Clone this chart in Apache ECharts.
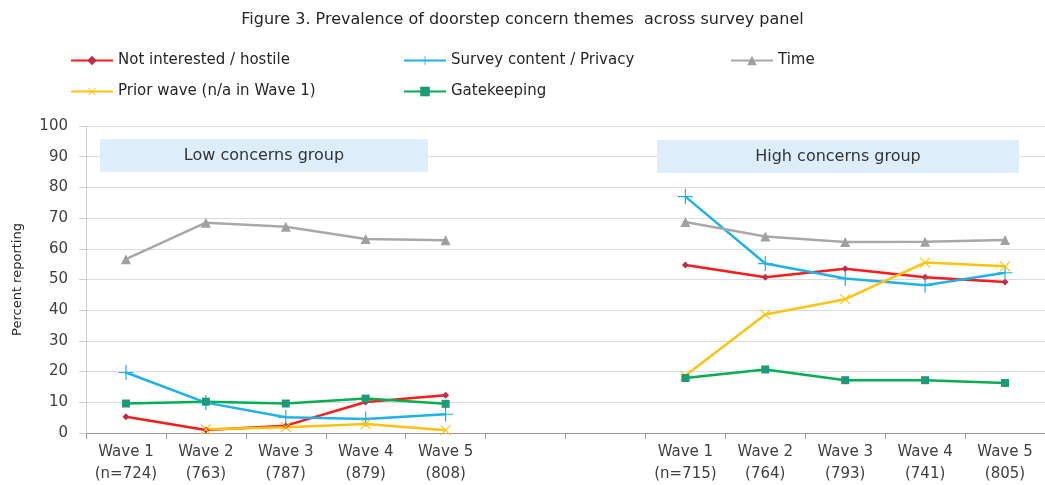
<!DOCTYPE html>
<html><head><meta charset="utf-8">
<script src="https://cdn.jsdelivr.net/npm/echarts@6/dist/echarts.min.js"></script>
<style>html,body{margin:0;padding:0;background:#fff}#c{width:1045px;height:485px}</style>
</head><body><div id="c"></div>
<script>
const categories = ['Wave 1\n(n=724)','Wave 2\n(763)','Wave 3\n(787)','Wave 4\n(879)','Wave 5\n(808)','','',
                    'Wave 1\n(n=715)','Wave 2\n(764)','Wave 3\n(793)','Wave 4\n(741)','Wave 5\n(805)'];
const notInterested = [5.3, 1.0, 2.4, 10.1, 12.3, null, null, 54.7, 50.7, 53.5, 50.7, 49.2];
const surveyContent = [19.7, 9.9, 5.1, 4.6, 6.1, null, null, 77.0, 55.2, 50.3, 48.1, 52.2];
const timeVals      = [56.6, 68.5, 67.2, 63.2, 62.8, null, null, 68.7, 64.0, 62.2, 62.3, 62.9];
const priorWave     = [null, 1.2, 1.9, 2.9, 0.9, null, null, 18.7, 38.6, 43.6, 55.5, 54.3];
const gatekeeping   = [9.6, 10.2, 9.6, 11.2, 9.5, null, null, 17.9, 20.7, 17.2, 17.2, 16.3];
const yTicks = [0, 10, 20, 30, 40, 50, 60, 70, 80, 90, 100];

const FONT = 'DejaVu Sans';
const plusPath = 'path://M4.6,0h0.8v4.6h4.6v0.8h-4.6v4.6h-0.8v-4.6h-4.6v-0.8h4.6z';

function mkSeries(name, data, color, symbol, size, markerColor, rotate) {
  return {
    name, type: 'line', data, connectNulls: false,
    symbol, symbolSize: size, symbolRotate: rotate || 0, showAllSymbol: true,
    lineStyle: { color, width: 2.5 },
    itemStyle: { color: markerColor || color },
    emphasis: { disabled: true }, z: 3
  };
}
const series = [
  mkSeries('Not interested / hostile', notInterested, '#ff1a1a', 'diamond', 7, '#b8304c'),
  mkSeries('Survey content / Privacy', surveyContent, '#1db2ea', plusPath, 15, '#1db2ea'),
  mkSeries('Time', timeVals, '#a8a8a8', 'triangle', 10, '#a0a0a0'),
  mkSeries('Prior wave (n/a in Wave 1)', priorWave, '#ffc20e', plusPath, 14, '#ffc20e', 45),
  mkSeries('Gatekeeping', gatekeeping, '#00b050', 'rect', 8, '#1e9a78')
];

function lg(name, left, top) {
  return { data: [name], left, top, itemWidth: 42, itemHeight: 12, itemGap: 6, padding: 0,
    textStyle: { fontFamily: FONT, fontSize: 15, color: '#262626' }, selectedMode: false };
}

const chart = echarts.init(document.getElementById('c'), null, { renderer: 'canvas' });
chart.setOption({
  animation: false,
  title: { text: 'Figure 3. Prevalence of doorstep concern themes  across survey panel',
    left: 'center', top: 7, textStyle: { fontFamily: FONT, fontSize: 16, fontWeight: 'normal', color: '#262626' } },
  legend: [
    lg('Not interested / hostile', 70, 53),
    lg('Survey content / Privacy', 403, 53),
    lg('Time', 730, 53),
    lg('Prior wave (n/a in Wave 1)', 70, 84),
    lg('Gatekeeping', 403, 84)
  ],
  grid: { left: 86, right: 0, top: 126, bottom: 51, containLabel: false },
  xAxis: {
    type: 'category', data: categories, boundaryGap: true,
    axisLine: { lineStyle: { color: '#9a9a9a', width: 1 } },
    axisTick: { show: true, interval: 0, length: 6, lineStyle: { color: '#9a9a9a' } },
    axisLabel: { interval: 0, fontFamily: FONT, fontSize: 15, color: '#404040', lineHeight: 22, margin: 8 }
  },
  yAxis: {
    type: 'value', min: 0, max: 100, interval: 10,
    name: 'Percent reporting', nameLocation: 'middle', nameGap: 62, nameRotate: 90,
    nameTextStyle: { fontFamily: FONT, fontSize: 13, color: '#262626' },
    axisLine: { show: true, lineStyle: { color: '#d0d0d0' } },
    axisTick: { show: true, length: 7, lineStyle: { color: '#d0d0d0' } },
    axisLabel: { fontFamily: FONT, fontSize: 15, color: '#404040', margin: 18,
      formatter: v => yTicks.includes(v) ? String(v) : '' },
    splitLine: { lineStyle: { color: '#dcdcdc', width: 1 } }
  },
  graphic: [
    { type: 'rect', shape: { x: 100, y: 139, width: 328, height: 33 }, style: { fill: '#ddeefa' }, z: 1 },
    { type: 'text', x: 264, y: 156, style: { text: 'Low concerns group', fontFamily: FONT, fontSize: 16, fill: '#333', align: 'center', verticalAlign: 'middle' }, z: 2 },
    { type: 'rect', shape: { x: 657, y: 140, width: 362, height: 33 }, style: { fill: '#ddeefa' }, z: 1 },
    { type: 'text', x: 838, y: 157, style: { text: 'High concerns group', fontFamily: FONT, fontSize: 16, fill: '#333', align: 'center', verticalAlign: 'middle' }, z: 2 }
  ],
  series
});
</script></body></html>
